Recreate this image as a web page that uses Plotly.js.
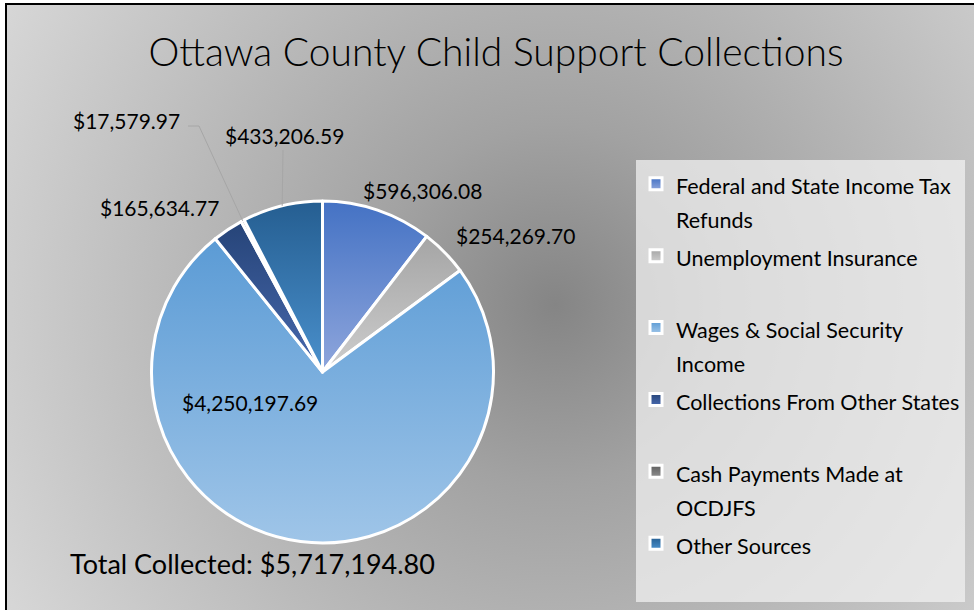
<!DOCTYPE html>
<html><head><meta charset="utf-8">
<script src="https://cdn.plot.ly/plotly-3.0.1.min.js"></script>
<style>
html,body{margin:0;padding:0;width:974px;height:610px;overflow:hidden;background:#fff;}
#frame{position:absolute;left:5px;top:3px;width:990px;height:640px;border:2px solid #000;
background:radial-gradient(circle farthest-corner at 548px 300px,#858585 0%,#a2a2a2 28%,#d9d9d9 100%);}
#chart{position:absolute;left:0;top:0;width:974px;height:610px;}
</style></head><body>
<div id="frame"></div>
<div id="chart"></div>
<svg width="0" height="0" style="position:absolute;left:0;top:0"><defs id="gdefs"></defs></svg>
<script>
// ---- data ----
const categories = [
  "Federal and State Income Tax Refunds",
  "Unemployment Insurance",
  "Wages & Social Security Income",
  "Collections From Other States",
  "Cash Payments Made at OCDJFS",
  "Other Sources"
];
const values = [596306.08, 254269.70, 4250197.69, 165634.77, 17579.97, 433206.59];
const legendLines = [
  ["Federal and State Income Tax", "Refunds"],
  ["Unemployment Insurance"],
  ["Wages & Social Security", "Income"],
  ["Collections From Other States"],
  ["Cash Payments Made at", "OCDJFS"],
  ["Other Sources"]
];
const chartTitle = "Ottawa County Child Support Collections";
const totalPrefix = "Total Collected: ";

// ---- styles ----
const topColors = ['#4472C4', '#A5A5A5', '#5B9BD5', '#264478', '#5E5E5E', '#255E91'];
const bottomColors = ['#8FA6DC', '#CDCDCD', '#9FC5E8', '#4869AE', '#8F8F8F', '#4A90CC'];
const midColors = ['#6A8CD0', '#B9B9B9', '#7DB0DE', '#375693', '#777777', '#3877AE'];
const W = 974, H = 610;
const CX = 322.5, CY = 372, R = 171;
const labelPos = [[422, 190], [515, 235], [250, 402], [159, 207], [126, 120], [284, 135]];
const leaderStarts = {4: [[188, 126], [199, 126]], 5: [[283, 150]]};
const FONT = 'Lato, "Open Sans", sans-serif';

const px = x => x / W;
const py = y => 1 - y / H;
const fmt = v => '$' + v.toLocaleString('en-US', {minimumFractionDigits: 2, maximumFractionDigits: 2});

const total = values.reduce((a, b) => a + b, 0);

// legend text (two lines each, so every entry has the same height)
const legendText = legendLines.map(lines => {
  const parts = lines.map(l => '<span style="font-size:21.5px">' + l + '</span>');
  if (parts.length < 2) parts.push('\u00a0');
  return parts.join('<br>');
});

// slice mid angles (clockwise from 12 o'clock)
const mids = [];
let cum = 0;
values.forEach(v => { mids.push((cum + v / 2) / total * 2 * Math.PI); cum += v; });

const annotations = values.map((v, i) => ({
  text: fmt(v), xref: 'paper', yref: 'paper',
  x: px(labelPos[i][0]), y: py(labelPos[i][1]),
  xanchor: 'center', yanchor: 'middle', showarrow: false,
  font: {family: FONT, size: 21, color: '#000'}
}));
annotations.push({
  text: totalPrefix + fmt(total), xref: 'paper', yref: 'paper',
  x: px(252), y: py(563), xanchor: 'center', yanchor: 'middle', showarrow: false,
  font: {family: FONT, size: 27, color: '#000'}
});

const shapes = Object.keys(leaderStarts).map(k => {
  const i = +k;
  const pts = leaderStarts[i].slice();
  pts.push([CX + R * Math.sin(mids[i]), CY - R * Math.cos(mids[i])]);
  const path = pts.map((p, j) => (j ? 'L' : 'M') + px(p[0]) + ',' + py(p[1])).join(' ');
  return {type: 'path', xref: 'paper', yref: 'paper', path: path,
          line: {color: '#A6A6A6', width: 1}};
});

const trace = {
  type: 'pie',
  labels: legendText,
  values: values,
  sort: false,
  direction: 'clockwise',
  rotation: 0,
  textinfo: 'none',
  hoverinfo: 'skip',
  marker: {colors: midColors, line: {color: '#FFFFFF', width: 3}},
  domain: {x: [px(CX - R), px(CX + R)], y: [py(CY + R), py(CY - R)]}
};

const layout = {
  width: W, height: H,
  margin: {l: 0, r: 0, t: 0, b: 0},
  paper_bgcolor: 'rgba(0,0,0,0)',
  plot_bgcolor: 'rgba(0,0,0,0)',
  title: {text: chartTitle, xref: 'paper', yref: 'paper', x: px(496), y: py(52),
          xanchor: 'center', yanchor: 'middle',
          font: {family: FONT, size: 39, weight: 300, color: '#000'}},
  showlegend: true,
  legend: {x: px(636), xanchor: 'left', y: py(160), yanchor: 'top',
           bgcolor: 'rgba(242,242,242,0.72)', borderwidth: 0,
           font: {family: FONT, size: 26.5, color: '#000'},
           valign: 'top', traceorder: 'normal'},
  annotations: annotations,
  shapes: shapes
};

function applyGradients() {
  const ns = 'http://www.w3.org/2000/svg';
  const defs = document.getElementById('gdefs');
  defs.innerHTML = '';
  topColors.forEach((c, i) => {
    const g = document.createElementNS(ns, 'linearGradient');
    g.setAttribute('id', 'sg' + i);
    g.setAttribute('x1', '0'); g.setAttribute('y1', '0');
    g.setAttribute('x2', '0'); g.setAttribute('y2', '1');
    [[0, c], [1, bottomColors[i]]].forEach(s => {
      const st = document.createElementNS(ns, 'stop');
      st.setAttribute('offset', s[0]);
      st.setAttribute('stop-color', s[1]);
      g.appendChild(st);
    });
    defs.appendChild(g);
  });
  document.querySelectorAll('#chart .slice path.surface').forEach((p, i) => {
    p.style.fill = 'url(#sg' + i + ')';
  });
  document.querySelectorAll('#chart .legendpoints path.legendpie').forEach((p, i) => {
    p.style.fill = 'url(#sg' + i + ')';
  });
}

Plotly.newPlot('chart', [trace], layout, {staticPlot: true, displayModeBar: false})
  .then(applyGradients);
</script>
</body></html>
